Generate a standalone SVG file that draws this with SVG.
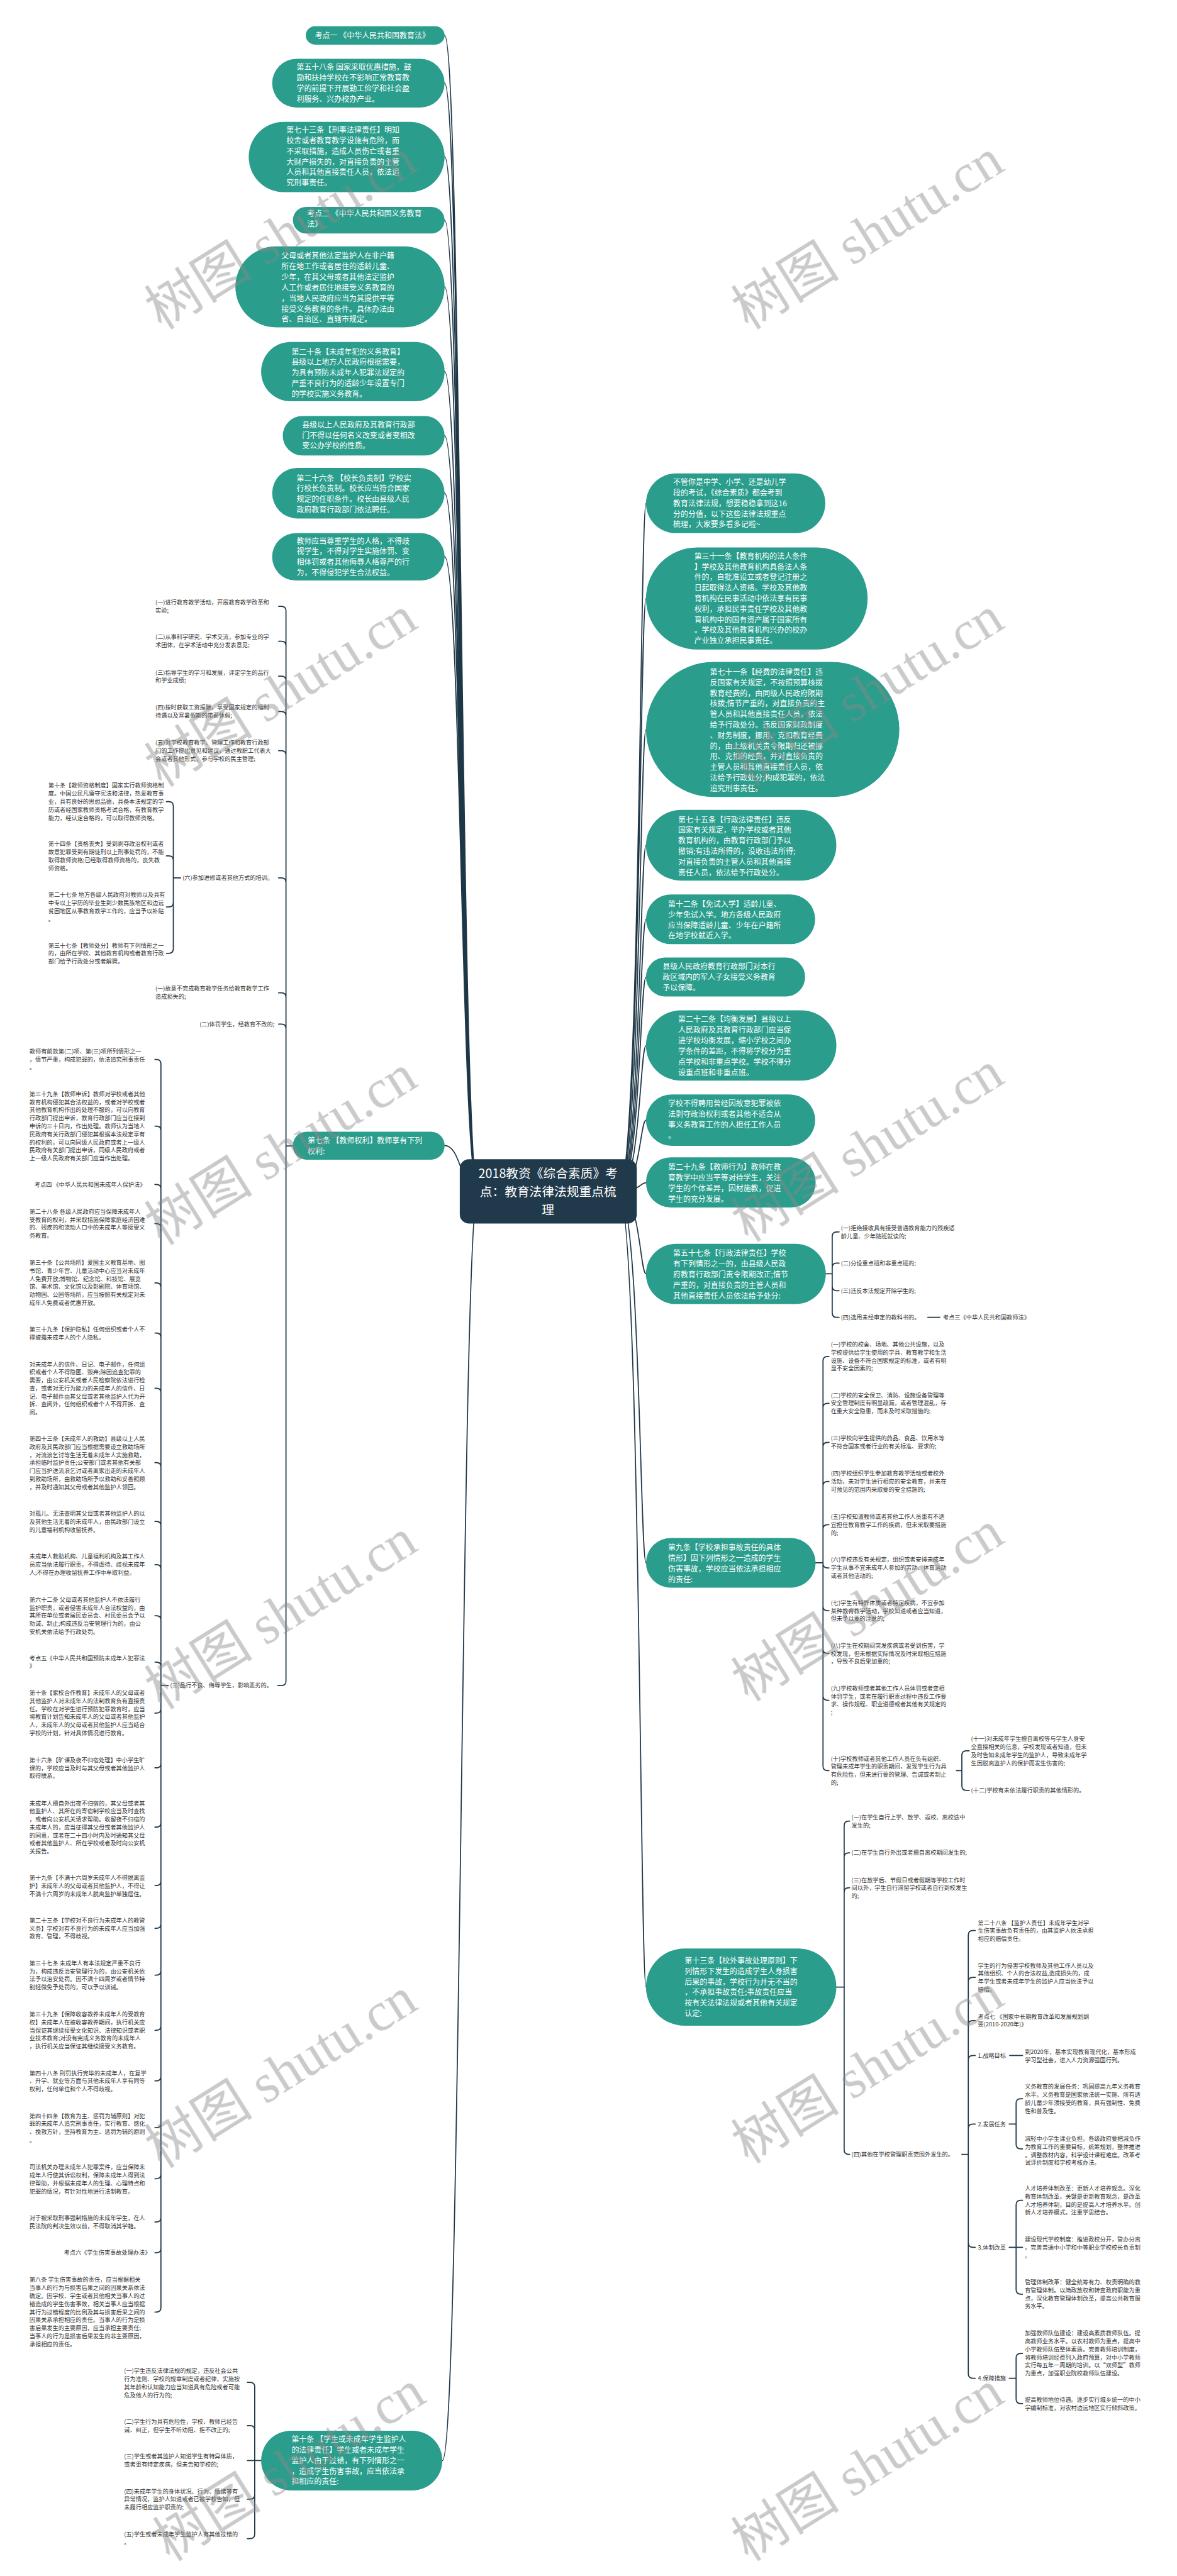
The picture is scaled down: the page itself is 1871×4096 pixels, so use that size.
<svg xmlns="http://www.w3.org/2000/svg" width="1871" height="4096" viewBox="0 0 1871 4096">
<style>
.p{fill:#2a9d8c}
.c{fill:#213a4b}
.n{font-family:"Noto Sans CJK SC","Noto Sans",sans-serif;font-size:16.4px;fill:#ffffff}
.l{font-family:"Noto Sans CJK SC","Noto Sans",sans-serif;font-size:12.6px;fill:#333333}
.ct{font-family:"Noto Sans CJK SC","Noto Sans",sans-serif;font-size:27px;fill:#ffffff;text-anchor:middle}
.e{fill:none;stroke:#1e3747;stroke-width:2.4;stroke-linecap:round}
.wm{font-family:"Liberation Serif","Noto Sans CJK SC",serif;font-size:118px;fill:#888888;opacity:0.45}
</style>
<rect width="1871" height="4096" fill="#ffffff"/>
<g transform="scale(0.73088)">
<g id="connectors">
<path class="e" d="M967 77C1003 77 1003 2592 1040 2592M967 181C1003 181 1003 2592 1040 2592M967 341C1003 341 1003 2592 1040 2592M967 479C1003 479 1003 2592 1040 2592M967 624C1003 624 1003 2592 1040 2592M967 808C1003 808 1003 2592 1040 2592M967 948C1003 948 1003 2592 1040 2592M967 1073C1003 1073 1003 2592 1040 2592M967 1211C1003 1211 1003 2592 1040 2592M967 2492C1003 2492 1003 2592 1040 2592M962 5353C1003 5353 1003 2592 1040 2592"/>
<path class="e" d="M1345 2592C1392 2592 1392 1095 1405 1095M1345 2592C1392 2592 1392 1302 1405 1302M1345 2592C1392 2592 1392 1587 1405 1587M1345 2592C1392 2592 1392 1839 1405 1839M1345 2592C1392 2592 1392 2000 1405 2000M1345 2592C1392 2592 1392 2126 1405 2126M1345 2592C1392 2592 1392 2275 1405 2275M1345 2592C1392 2592 1392 2437 1405 2437M1345 2592C1392 2592 1392 2573 1405 2573M1345 2592C1392 2592 1392 2771 1405 2771M1345 2592C1392 2592 1392 3400 1405 3400M1345 2592C1392 2592 1392 4323 1405 4323"/>
<path class="e" d="M637 2493H622M622 2493V1329Q622 1319 612 1319H606M622 2493V1405Q622 1395 612 1395H606M622 2493V1481Q622 1471 612 1471H606M622 2493V1558Q622 1548 612 1548H606M622 2493V1643Q622 1633 612 1633H606M622 2493V1920Q622 1910 612 1910H606M622 2493V2170Q622 2160 612 2160H606M622 2493V2238Q622 2228 612 2228H606M622 2493V3657Q622 3667 612 3667H604"/>
<path class="e" d="M393 1910H377M377 1910V1754Q377 1744 367 1744H362M377 1910V1872Q377 1862 367 1862H362M377 1910V1963Q377 1973 367 1973H362M377 1910V2064Q377 2074 367 2074H362"/>
<path class="e" d="M366 3667H350M350 3667V2315Q350 2305 340 2305H337M350 3667V2460Q350 2450 340 2450H337M350 3667V2587Q350 2577 340 2577H337M350 3667V2672Q350 2662 340 2662H337M350 3667V2801Q350 2791 340 2791H337M350 3667V2910Q350 2900 340 2900H337M350 3667V3030Q350 3020 340 3020H337M350 3667V3192Q350 3182 340 3182H337M350 3667V3320Q350 3310 340 3310H337M350 3667V3414Q350 3404 340 3404H337M350 3667V3525Q350 3515 340 3515H337M350 3667V3626Q350 3616 340 3616H337M350 3667V3717Q350 3727 340 3727H337M350 3667V3836Q350 3846 340 3846H337M350 3667V3965Q350 3975 340 3975H337M350 3667V4092Q350 4102 340 4102H337M350 3667V4185Q350 4195 340 4195H337M350 3667V4287Q350 4297 340 4297H337M350 3667V4407Q350 4417 340 4417H337M350 3667V4517Q350 4527 340 4527H337M350 3667V4619Q350 4629 340 4629H337M350 3667V4730Q350 4740 340 4740H337M350 3667V4824Q350 4834 340 4834H337M350 3667V4891Q350 4901 340 4901H337M350 3667V5020Q350 5030 340 5030H337"/>
<path class="e" d="M568 5353H538M554 5353V5193Q554 5183 544 5183H538M554 5353V5287Q554 5277 544 5277H538M554 5353V5427Q554 5437 544 5437H538M554 5353V5513Q554 5523 544 5523H538"/>
<path class="e" d="M1796 2771H1810M1810 2771V2690Q1810 2680 1820 2680H1825M1810 2771V2758Q1810 2748 1820 2748H1825M1810 2771V2798Q1810 2808 1820 2808H1825M1810 2771V2856Q1810 2866 1820 2866H1825M2018 2866H2044"/>
<path class="e" d="M1774 3400H1790M1790 3400V2961Q1790 2951 1800 2951H1803M1790 3400V3063Q1790 3053 1800 3053H1803M1790 3400V3148Q1790 3138 1800 3138H1803M1790 3400V3233Q1790 3223 1800 3223H1803M1790 3400V3327Q1790 3317 1800 3317H1803M1790 3400V3401Q1790 3411 1800 3411H1803M1790 3400V3494Q1790 3504 1800 3504H1803M1790 3400V3587Q1790 3597 1800 3597H1803M1790 3400V3689Q1790 3699 1800 3699H1803M1790 3400V3842Q1790 3852 1800 3852H1803"/>
<path class="e" d="M2080 3852H2092M2092 3852V3819Q2092 3809 2102 3809H2108M2092 3852V3885Q2092 3895 2102 3895H2108"/>
<path class="e" d="M1819 4323H1836M1836 4323V3972Q1836 3962 1846 3962H1848M1836 4323V4041Q1836 4031 1846 4031H1848M1836 4323V4117Q1836 4107 1846 4107H1848M1836 4323V4677Q1836 4687 1846 4687H1848"/>
<path class="e" d="M2092 4687H2106M2106 4687V4210Q2106 4200 2116 4200H2121M2106 4687V4312Q2106 4302 2116 4302H2121M2106 4687V4406Q2106 4396 2116 4396H2121M2106 4687V4482Q2106 4472 2116 4472H2121M2106 4687V4631Q2106 4621 2116 4621H2121M2106 4687V4879Q2106 4889 2116 4889H2121M2106 4687V5164Q2106 5174 2116 5174H2121"/>
<path class="e" d="M2196 4472H2224M2195 4621H2210M2210 4621V4576Q2210 4566 2220 4566H2224M2210 4621V4665Q2210 4675 2220 4675H2224M2195 4889H2224M2210 4889V4797Q2210 4787 2220 4787H2224M2210 4889V4981Q2210 4991 2220 4991H2224M2195 5174H2210M2210 5174V5130Q2210 5120 2220 5120H2224M2210 5174V5219Q2210 5229 2220 5229H2224"/>
</g>
<g id="center"><rect class="c" x="1000" y="2522" width="385" height="140" rx="20"/><text class="ct" x="1192" y="2562"><tspan x="1192">2018教资《综合素质》考</tspan><tspan x="1192" dy="40">点：教育法律法规重点梳</tspan><tspan x="1192" dy="40">理</tspan></text></g>
<g id="n1"><rect class="p" x="665" y="57" width="302" height="40" rx="20"/><text class="n" x="685" y="83">考点一 《中华人民共和国教育法》</text></g>
<g id="n2"><rect class="p" x="592" y="128" width="375" height="106" rx="53"/><text class="n" y="152"><tspan x="645">第五十八条 国家采取优惠措施，鼓</tspan><tspan x="645" dy="23">励和扶持学校在不影响正常教育教</tspan><tspan x="645" dy="23">学的前提下开展勤工俭学和社会盈</tspan><tspan x="645" dy="23">利服务、兴办校办产业。</tspan></text></g>
<g id="n3"><rect class="p" x="541" y="265" width="426" height="153" rx="76"/><text class="n" y="289"><tspan x="623">第七十三条【刑事法律责任】明知</tspan><tspan x="623" dy="23">校舍或者教育教学设施有危险，而</tspan><tspan x="623" dy="23">不采取措施，造成人员伤亡或者重</tspan><tspan x="623" dy="23">大财产损失的，对直接负责的主管</tspan><tspan x="623" dy="23">人员和其他直接责任人员，依法追</tspan><tspan x="623" dy="23">究刑事责任。</tspan></text></g>
<g id="n4"><rect class="p" x="637" y="450" width="330" height="58" rx="29"/><text class="n" y="471"><tspan x="668">考点二 《中华人民共和国义务教育</tspan><tspan x="668" dy="23">法》</tspan></text></g>
<g id="n5"><rect class="p" x="512" y="536" width="455" height="176" rx="88"/><text class="n" y="563"><tspan x="612">父母或者其他法定监护人在非户籍</tspan><tspan x="612" dy="23">所在地工作或者居住的适龄儿童、</tspan><tspan x="612" dy="23">少年，在其父母或者其他法定监护</tspan><tspan x="612" dy="23">人工作或者居住地接受义务教育的</tspan><tspan x="612" dy="23">，当地人民政府应当为其提供平等</tspan><tspan x="612" dy="23">接受义务教育的条件。具体办法由</tspan><tspan x="612" dy="23">省、自治区、直辖市规定。</tspan></text></g>
<g id="n6"><rect class="p" x="568" y="744" width="399" height="129" rx="64"/><text class="n" y="771"><tspan x="634">第二十条【未成年犯的义务教育】</tspan><tspan x="634" dy="23">县级以上地方人民政府根据需要，</tspan><tspan x="634" dy="23">为具有预防未成年人犯罪法规定的</tspan><tspan x="634" dy="23">严重不良行为的适龄少年设置专门</tspan><tspan x="634" dy="23">的学校实施义务教育。</tspan></text></g>
<g id="n7"><rect class="p" x="615" y="905" width="352" height="86" rx="43"/><text class="n" y="930"><tspan x="657">县级以上人民政府及其教育行政部</tspan><tspan x="657" dy="23">门不得以任何名义改变或者变相改</tspan><tspan x="657" dy="23">变公办学校的性质。</tspan></text></g>
<g id="n8"><rect class="p" x="592" y="1018" width="375" height="110" rx="55"/><text class="n" y="1046"><tspan x="645">第二十六条 【校长负责制】学校实</tspan><tspan x="645" dy="23">行校长负责制。校长应当符合国家</tspan><tspan x="645" dy="23">规定的任职条件。校长由县级人民</tspan><tspan x="645" dy="23">政府教育行政部门依法聘任。</tspan></text></g>
<g id="n9"><rect class="p" x="592" y="1160" width="375" height="103" rx="51"/><text class="n" y="1183"><tspan x="645">教师应当尊重学生的人格，不得歧</tspan><tspan x="645" dy="23">视学生，不得对学生实施体罚、变</tspan><tspan x="645" dy="23">相体罚或者其他侮辱人格尊严的行</tspan><tspan x="645" dy="23">为，不得侵犯学生合法权益。</tspan></text></g>
<g id="n10"><rect class="p" x="637" y="2462" width="330" height="61" rx="30"/><text class="n" y="2488"><tspan x="669">第七条 【教师权利】教师享有下列</tspan><tspan x="669" dy="23">权利:</tspan></text></g>
<g id="n10-leaves">
<text class="l" y="1314.5"><tspan x="338">(一)进行教育教学活动，开展教育教学改革和</tspan><tspan x="338" dy="17.5">实验;</tspan></text>
<text class="l" y="1390.5"><tspan x="338">(二)从事科学研究、学术交流，参加专业的学</tspan><tspan x="338" dy="17.5">术团体，在学术活动中充分发表意见;</tspan></text>
<text class="l" y="1467.5"><tspan x="338">(三)指导学生的学习和发展，评定学生的品行</tspan><tspan x="338" dy="17.5">和学业成绩;</tspan></text>
<text class="l" y="1543.5"><tspan x="338">(四)按时获取工资报酬，享受国家规定的福利</tspan><tspan x="338" dy="17.5">待遇以及寒暑假期的带薪休假;</tspan></text>
<text class="l" y="1620.5"><tspan x="338">(五)对学校教育教学、管理工作和教育行政部</tspan><tspan x="338" dy="17.5">门的工作提出意见和建议，通过教职工代表大</tspan><tspan x="338" dy="17.5">会或者其他形式，参与学校的民主管理;</tspan></text>
<text class="l" x="397" y="1914.5">(六)参加进修或者其他方式的培训。</text>
<text class="l" y="2155.5"><tspan x="338">(一)故意不完成教育教学任务给教育教学工作</tspan><tspan x="338" dy="17.5">造成损失的;</tspan></text>
<text class="l" x="434" y="2232.5">(二)体罚学生，经教育不改的;</text>
<text class="l" x="370" y="3671.5">(三)品行不良、侮辱学生，影响恶劣的。</text>
</g>
<g id="six-leaves">
<text class="l" y="1713.5"><tspan x="105">第十条【教师资格制度】国家实行教师资格制</tspan><tspan x="105" dy="17.5">度。中国公民凡遵守宪法和法律，热爱教育事</tspan><tspan x="105" dy="17.5">业，具有良好的思想品德，具备本法规定的学</tspan><tspan x="105" dy="17.5">历或者经国家教师资格考试合格，有教育教学</tspan><tspan x="105" dy="17.5">能力，经认定合格的，可以取得教师资格。</tspan></text>
<text class="l" y="1840.5"><tspan x="105">第十四条【资格丧失】受到剥夺政治权利或者</tspan><tspan x="105" dy="17.5">故意犯罪受到有期徒刑以上刑事处罚的，不能</tspan><tspan x="105" dy="17.5">取得教师资格;已经取得教师资格的，丧失教</tspan><tspan x="105" dy="17.5">师资格。</tspan></text>
<text class="l" y="1951.5"><tspan x="105">第二十七条 地方各级人民政府对教师以及具有</tspan><tspan x="105" dy="17.5">中专以上学历的毕业生到少数民族地区和边远</tspan><tspan x="105" dy="17.5">贫困地区从事教育教学工作的，应当予以补贴</tspan><tspan x="105" dy="17.5">。</tspan></text>
<text class="l" y="2061.5"><tspan x="105">第三十七条【教师处分】教师有下列情形之一</tspan><tspan x="105" dy="17.5">的，由所在学校、其他教育机构或者教育行政</tspan><tspan x="105" dy="17.5">部门给予行政处分或者解聘。</tspan></text>
</g>
<g id="three-leaves">
<text class="l" y="2291.5"><tspan x="64">教师有前款第(二)项、第(三)项所列情形之一</tspan><tspan x="64" dy="17.5">，情节严重，构成犯罪的，依法追究刑事责任</tspan><tspan x="64" dy="17.5">。</tspan></text>
<text class="l" y="2384.5"><tspan x="64">第三十九条【教师申诉】教师对学校或者其他</tspan><tspan x="64" dy="17.5">教育机构侵犯其合法权益的，或者对学校或者</tspan><tspan x="64" dy="17.5">其他教育机构作出的处理不服的，可以向教育</tspan><tspan x="64" dy="17.5">行政部门提出申诉，教育行政部门应当在接到</tspan><tspan x="64" dy="17.5">申诉的三十日内，作出处理。教师认为当地人</tspan><tspan x="64" dy="17.5">民政府有关行政部门侵犯其根据本法规定享有</tspan><tspan x="64" dy="17.5">的权利的，可以向同级人民政府或者上一级人</tspan><tspan x="64" dy="17.5">民政府有关部门提出申诉，同级人民政府或者</tspan><tspan x="64" dy="17.5">上一级人民政府有关部门应当作出处理。</tspan></text>
<text class="l" x="75" y="2581.5">考点四 《中华人民共和国未成年人保护法》</text>
<text class="l" y="2640.5"><tspan x="64">第二十八条 各级人民政府应当保障未成年人</tspan><tspan x="64" dy="17.5">受教育的权利，并采取措施保障家庭经济困难</tspan><tspan x="64" dy="17.5">的、残疾的和流动人口中的未成年人等接受义</tspan><tspan x="64" dy="17.5">务教育。</tspan></text>
<text class="l" y="2751.5"><tspan x="64">第三十条【公共场所】爱国主义教育基地、图</tspan><tspan x="64" dy="17.5">书馆、青少年宫、儿童活动中心应当对未成年</tspan><tspan x="64" dy="17.5">人免费开放;博物馆、纪念馆、科技馆、展览</tspan><tspan x="64" dy="17.5">馆、美术馆、文化馆以及影剧院、体育场馆、</tspan><tspan x="64" dy="17.5">动物园、公园等场所，应当按照有关规定对未</tspan><tspan x="64" dy="17.5">成年人免费或者优惠开放。</tspan></text>
<text class="l" y="2896.5"><tspan x="64">第三十九条【保护隐私】任何组织或者个人不</tspan><tspan x="64" dy="17.5">得披露未成年人的个人隐私。</tspan></text>
<text class="l" y="2972.5"><tspan x="64">对未成年人的信件、日记、电子邮件，任何组</tspan><tspan x="64" dy="17.5">织或者个人不得隐匿、毁弃;除因追查犯罪的</tspan><tspan x="64" dy="17.5">需要，由公安机关或者人民检察院依法进行检</tspan><tspan x="64" dy="17.5">查，或者对无行为能力的未成年人的信件、日</tspan><tspan x="64" dy="17.5">记、电子邮件由其父母或者其他监护人代为开</tspan><tspan x="64" dy="17.5">拆、查阅外，任何组织或者个人不得开拆、查</tspan><tspan x="64" dy="17.5">阅。</tspan></text>
<text class="l" y="3134.5"><tspan x="64">第四十三条【未成年人的救助】县级以上人民</tspan><tspan x="64" dy="17.5">政府及其民政部门应当根据需要设立救助场所</tspan><tspan x="64" dy="17.5">，对流浪乞讨等生活无着未成年人实施救助，</tspan><tspan x="64" dy="17.5">承担临时监护责任;公安部门或者其他有关部</tspan><tspan x="64" dy="17.5">门应当护送流浪乞讨或者离家出走的未成年人</tspan><tspan x="64" dy="17.5">到救助场所，由救助场所予以救助和妥善照顾</tspan><tspan x="64" dy="17.5">，并及时通知其父母或者其他监护人领回。</tspan></text>
<text class="l" y="3297.5"><tspan x="64">对孤儿、无法查明其父母或者其他监护人的以</tspan><tspan x="64" dy="17.5">及其他生活无着的未成年人，由民政部门设立</tspan><tspan x="64" dy="17.5">的儿童福利机构收留抚养。</tspan></text>
<text class="l" y="3390.5"><tspan x="64">未成年人救助机构、儿童福利机构及其工作人</tspan><tspan x="64" dy="17.5">员应当依法履行职责，不得虐待、歧视未成年</tspan><tspan x="64" dy="17.5">人;不得在办理收留抚养工作中牟取利益。</tspan></text>
<text class="l" y="3484.5"><tspan x="64">第六十二条 父母或者其他监护人不依法履行</tspan><tspan x="64" dy="17.5">监护职责，或者侵害未成年人合法权益的，由</tspan><tspan x="64" dy="17.5">其所在单位或者居民委员会、村民委员会予以</tspan><tspan x="64" dy="17.5">劝诫、制止;构成违反治安管理行为的，由公</tspan><tspan x="64" dy="17.5">安机关依法给予行政处罚。</tspan></text>
<text class="l" y="3611.5"><tspan x="64">考点五《中华人民共和国预防未成年人犯罪法</tspan><tspan x="64" dy="17.5">》</tspan></text>
<text class="l" y="3687.5"><tspan x="64">第十条【家校合作教育】未成年人的父母或者</tspan><tspan x="64" dy="17.5">其他监护人对未成年人的法制教育负有直接责</tspan><tspan x="64" dy="17.5">任。学校在对学生进行预防犯罪教育时，应当</tspan><tspan x="64" dy="17.5">将教育计划告知未成年人的父母或者其他监护</tspan><tspan x="64" dy="17.5">人，未成年人的父母或者其他监护人应当结合</tspan><tspan x="64" dy="17.5">学校的计划，针对具体情况进行教育。</tspan></text>
<text class="l" y="3833.5"><tspan x="64">第十六条【旷课及夜不归宿处理】中小学生旷</tspan><tspan x="64" dy="17.5">课的，学校应当及时与其父母或者其他监护人</tspan><tspan x="64" dy="17.5">取得联系。</tspan></text>
<text class="l" y="3927.5"><tspan x="64">未成年人擅自外出夜不归宿的，其父母或者其</tspan><tspan x="64" dy="17.5">他监护人、其所在的寄宿制学校应当及时查找</tspan><tspan x="64" dy="17.5">，或者向公安机关请求帮助。收留夜不归宿的</tspan><tspan x="64" dy="17.5">未成年人的，应当征得其父母或者其他监护人</tspan><tspan x="64" dy="17.5">的同意，或者在二十四小时内及时通知其父母</tspan><tspan x="64" dy="17.5">或者其他监护人、所在学校或者及时向公安机</tspan><tspan x="64" dy="17.5">关报告。</tspan></text>
<text class="l" y="4089.5"><tspan x="64">第十九条【不满十六周岁未成年人不得脱离监</tspan><tspan x="64" dy="17.5">护】未成年人的父母或者其他监护人，不得让</tspan><tspan x="64" dy="17.5">不满十六周岁的未成年人脱离监护单独居住。</tspan></text>
<text class="l" y="4182.5"><tspan x="64">第二十三条【学校对不良行为未成年人的教管</tspan><tspan x="64" dy="17.5">义务】学校对有不良行为的未成年人应当加强</tspan><tspan x="64" dy="17.5">教育、管理，不得歧视。</tspan></text>
<text class="l" y="4275.5"><tspan x="64">第三十七条 未成年人有本法规定严重不良行</tspan><tspan x="64" dy="17.5">为，构成违反治安管理行为的，由公安机关依</tspan><tspan x="64" dy="17.5">法予以治安处罚。因不满十四周岁或者情节特</tspan><tspan x="64" dy="17.5">别轻微免予处罚的，可以予以训诫。</tspan></text>
<text class="l" y="4386.5"><tspan x="64">第三十九条【保障收容教养未成年人的受教育</tspan><tspan x="64" dy="17.5">权】未成年人在被收容教养期间，执行机关应</tspan><tspan x="64" dy="17.5">当保证其继续接受文化知识、法律知识或者职</tspan><tspan x="64" dy="17.5">业技术教育;对没有完成义务教育的未成年人</tspan><tspan x="64" dy="17.5">，执行机关应当保证其继续接受义务教育。</tspan></text>
<text class="l" y="4514.5"><tspan x="64">第四十八条 刑罚执行完毕的未成年人，在复学</tspan><tspan x="64" dy="17.5">、升学、就业等方面与其他未成年人享有同等</tspan><tspan x="64" dy="17.5">权利，任何单位和个人不得歧视。</tspan></text>
<text class="l" y="4607.5"><tspan x="64">第四十四条【教育为主、惩罚为辅原则】对犯</tspan><tspan x="64" dy="17.5">罪的未成年人追究刑事责任，实行教育、感化</tspan><tspan x="64" dy="17.5">、挽救方针，坚持教育为主、惩罚为辅的原则</tspan><tspan x="64" dy="17.5">。</tspan></text>
<text class="l" y="4719.5"><tspan x="64">司法机关办理未成年人犯罪案件，应当保障未</tspan><tspan x="64" dy="17.5">成年人行使其诉讼权利，保障未成年人得到法</tspan><tspan x="64" dy="17.5">律帮助，并根据未成年人的生理、心理特点和</tspan><tspan x="64" dy="17.5">犯罪的情况，有针对性地进行法制教育。</tspan></text>
<text class="l" y="4829.5"><tspan x="64">对于被采取刑事强制措施的未成年学生，在人</tspan><tspan x="64" dy="17.5">民法院的判决生效以前，不得取消其学籍。</tspan></text>
<text class="l" x="139" y="4905.5">考点六《学生伤害事故处理办法》</text>
<text class="l" y="4964.5"><tspan x="64">第八条 学生伤害事故的责任，应当根据相关</tspan><tspan x="64" dy="17.5">当事人的行为与损害后果之间的因果关系依法</tspan><tspan x="64" dy="17.5">确定。因学校、学生或者其他相关当事人的过</tspan><tspan x="64" dy="17.5">错造成的学生伤害事故，相关当事人应当根据</tspan><tspan x="64" dy="17.5">其行为过错程度的比例及其与损害后果之间的</tspan><tspan x="64" dy="17.5">因果关系承担相应的责任。当事人的行为是损</tspan><tspan x="64" dy="17.5">害后果发生的主要原因，应当承担主要责任;</tspan><tspan x="64" dy="17.5">当事人的行为是损害后果发生的非主要原因，</tspan><tspan x="64" dy="17.5">承担相应的责任。</tspan></text>
</g>
<g id="n11"><rect class="p" x="568" y="5288" width="394" height="130" rx="65"/><text class="n" y="5313"><tspan x="634">第十条 【学生或未成年学生监护人</tspan><tspan x="634" dy="23">的法律责任】学生或者未成年学生</tspan><tspan x="634" dy="23">监护人由于过错，有下列情形之一</tspan><tspan x="634" dy="23">，造成学生伤害事故，应当依法承</tspan><tspan x="634" dy="23">担相应的责任:</tspan></text></g>
<g id="n11-leaves">
<text class="l" y="5162.5"><tspan x="270">(一)学生违反法律法规的规定，违反社会公共</tspan><tspan x="270" dy="17.5">行为准则、学校的规章制度或者纪律，实施按</tspan><tspan x="270" dy="17.5">其年龄和认知能力应当知道具有危险或者可能</tspan><tspan x="270" dy="17.5">危及他人的行为的;</tspan></text>
<text class="l" y="5273.5"><tspan x="270">(二)学生行为具有危险性，学校、教师已经告</tspan><tspan x="270" dy="17.5">诫、纠正，但学生不听劝阻、拒不改正的;</tspan></text>
<text class="l" y="5348.5"><tspan x="270">(三)学生或者其监护人知道学生有特异体质，</tspan><tspan x="270" dy="17.5">或者患有特定疾病，但未告知学校的;</tspan></text>
<text class="l" y="5424.5"><tspan x="270">(四)未成年学生的身体状况、行为、情绪等有</tspan><tspan x="270" dy="17.5">异常情况，监护人知道或者已被学校告知，但</tspan><tspan x="270" dy="17.5">未履行相应监护职责的;</tspan></text>
<text class="l" y="5518.5"><tspan x="270">(五)学生或者未成年学生监护人有其他过错的</tspan><tspan x="270" dy="17.5">。</tspan></text>
</g>
<g id="ra"><rect class="p" x="1405" y="1030" width="390" height="130" rx="65"/><text class="n" y="1055"><tspan x="1464">不管你是中学、小学、还是幼儿学</tspan><tspan x="1464" dy="23">段的考试，《综合素质》都会考到</tspan><tspan x="1464" dy="23">教育法律法规，想要稳稳拿到这16</tspan><tspan x="1464" dy="23">分的分值，以下这些法律法规重点</tspan><tspan x="1464" dy="23">梳理，大家要多看多记啦~</tspan></text></g>
<g id="rb"><rect class="p" x="1405" y="1191" width="482" height="222" rx="111"/><text class="n" y="1216"><tspan x="1510">第三十一条【教育机构的法人条件</tspan><tspan x="1510" dy="23">】学校及其他教育机构具备法人条</tspan><tspan x="1510" dy="23">件的，自批准设立或者登记注册之</tspan><tspan x="1510" dy="23">日起取得法人资格。学校及其他教</tspan><tspan x="1510" dy="23">育机构在民事活动中依法享有民事</tspan><tspan x="1510" dy="23">权利，承担民事责任学校及其他教</tspan><tspan x="1510" dy="23">育机构中的国有资产属于国家所有</tspan><tspan x="1510" dy="23">。学校及其他教育机构兴办的校办</tspan><tspan x="1510" dy="23">产业独立承担民事责任。</tspan></text></g>
<g id="rc"><rect class="p" x="1405" y="1440" width="551" height="294" rx="147"/><text class="n" y="1468"><tspan x="1544">第七十一条【经费的法律责任】违</tspan><tspan x="1544" dy="23">反国家有关规定，不按照预算核拨</tspan><tspan x="1544" dy="23">教育经费的，由同级人民政府限期</tspan><tspan x="1544" dy="23">核拨;情节严重的，对直接负责的主</tspan><tspan x="1544" dy="23">管人员和其他直接责任人员，依法</tspan><tspan x="1544" dy="23">给予行政处分。违反国家财政制度</tspan><tspan x="1544" dy="23">、财务制度，挪用、克扣教育经费</tspan><tspan x="1544" dy="23">的，由上级机关责令限期归还被挪</tspan><tspan x="1544" dy="23">用、克扣的经费，并对直接负责的</tspan><tspan x="1544" dy="23">主管人员和其他直接责任人员，依</tspan><tspan x="1544" dy="23">法给予行政处分;构成犯罪的，依法</tspan><tspan x="1544" dy="23">追究刑事责任。</tspan></text></g>
<g id="rd"><rect class="p" x="1405" y="1762" width="414" height="154" rx="77"/><text class="n" y="1789"><tspan x="1475">第七十五条【行政法律责任】违反</tspan><tspan x="1475" dy="23">国家有关规定，举办学校或者其他</tspan><tspan x="1475" dy="23">教育机构的，由教育行政部门予以</tspan><tspan x="1475" dy="23">撤销;有违法所得的，没收违法所得;</tspan><tspan x="1475" dy="23">对直接负责的主管人员和其他直接</tspan><tspan x="1475" dy="23">责任人员，依法给予行政处分。</tspan></text></g>
<g id="re"><rect class="p" x="1405" y="1946" width="368" height="108" rx="54"/><text class="n" y="1973"><tspan x="1453">第十二条【免试入学】适龄儿童、</tspan><tspan x="1453" dy="23">少年免试入学。地方各级人民政府</tspan><tspan x="1453" dy="23">应当保障适龄儿童、少年在户籍所</tspan><tspan x="1453" dy="23">在地学校就近入学。</tspan></text></g>
<g id="rf"><rect class="p" x="1405" y="2083" width="346" height="85" rx="42"/><text class="n" y="2109"><tspan x="1441">县级人民政府教育行政部门对本行</tspan><tspan x="1441" dy="23">政区域内的军人子女接受义务教育</tspan><tspan x="1441" dy="23">予以保障。</tspan></text></g>
<g id="rg"><rect class="p" x="1405" y="2198" width="414" height="153" rx="76"/><text class="n" y="2224"><tspan x="1475">第二十二条【均衡发展】县级以上</tspan><tspan x="1475" dy="23">人民政府及其教育行政部门应当促</tspan><tspan x="1475" dy="23">进学校均衡发展，缩小学校之间办</tspan><tspan x="1475" dy="23">学条件的差距，不得将学校分为重</tspan><tspan x="1475" dy="23">点学校和非重点学校。学校不得分</tspan><tspan x="1475" dy="23">设重点班和非重点班。</tspan></text></g>
<g id="rh"><rect class="p" x="1405" y="2381" width="368" height="112" rx="56"/><text class="n" y="2407"><tspan x="1453">学校不得聘用曾经因故意犯罪被依</tspan><tspan x="1453" dy="23">法剥夺政治权利或者其他不适合从</tspan><tspan x="1453" dy="23">事义务教育工作的人担任工作人员</tspan><tspan x="1453" dy="23">。</tspan></text></g>
<g id="ri"><rect class="p" x="1405" y="2518" width="369" height="109" rx="54"/><text class="n" y="2545"><tspan x="1453">第二十九条【教师行为】教师在教</tspan><tspan x="1453" dy="23">育教学中应当平等对待学生，关注</tspan><tspan x="1453" dy="23">学生的个体差异，因材施教，促进</tspan><tspan x="1453" dy="23">学生的充分发展。</tspan></text></g>
<g id="rj"><rect class="p" x="1405" y="2706" width="391" height="131" rx="65"/><text class="n" y="2733"><tspan x="1464">第五十七条【行政法律责任】学校</tspan><tspan x="1464" dy="23">有下列情形之一的，由县级人民政</tspan><tspan x="1464" dy="23">府教育行政部门责令限期改正;情节</tspan><tspan x="1464" dy="23">严重的，对直接负责的主管人员和</tspan><tspan x="1464" dy="23">其他直接责任人员依法给予处分:</tspan></text></g>
<g id="rj-leaves">
<text class="l" y="2676.5"><tspan x="1829">(一)拒绝接收具有接受普通教育能力的残疾适</tspan><tspan x="1829" dy="17.5">龄儿童、少年随班就读的;</tspan></text>
<text class="l" x="1829" y="2752.5">(二)分设重点班和非重点班的;</text>
<text class="l" x="1829" y="2812.5">(三)违反本法规定开除学生的;</text>
<text class="l" x="1829" y="2870.5">(四)选用未经审定的教科书的。</text>
<text class="l" x="2051" y="2870.5">考点三《中华人民共和国教师法》</text>
</g>
<g id="rk"><rect class="p" x="1405" y="3346" width="369" height="108" rx="54"/><text class="n" y="3373"><tspan x="1453">第九条【学校承担事故责任的具体</tspan><tspan x="1453" dy="23">情形】因下列情形之一造成的学生</tspan><tspan x="1453" dy="23">伤害事故，学校应当依法承担相应</tspan><tspan x="1453" dy="23">的责任:</tspan></text></g>
<g id="rk-leaves">
<text class="l" y="2929.5"><tspan x="1807">(一)学校的校舍、场地、其他公共设施，以及</tspan><tspan x="1807" dy="17.5">学校提供给学生使用的学具、教育教学和生活</tspan><tspan x="1807" dy="17.5">设施、设备不符合国家规定的标准，或者有明</tspan><tspan x="1807" dy="17.5">显不安全因素的;</tspan></text>
<text class="l" y="3039.5"><tspan x="1807">(二)学校的安全保卫、消防、设施设备管理等</tspan><tspan x="1807" dy="17.5">安全管理制度有明显疏漏，或者管理混乱，存</tspan><tspan x="1807" dy="17.5">在重大安全隐患，而未及时采取措施的;</tspan></text>
<text class="l" y="3133.5"><tspan x="1807">(三)学校向学生提供的药品、食品、饮用水等</tspan><tspan x="1807" dy="17.5">不符合国家或者行业的有关标准、要求的;</tspan></text>
<text class="l" y="3210.5"><tspan x="1807">(四)学校组织学生参加教育教学活动或者校外</tspan><tspan x="1807" dy="17.5">活动，未对学生进行相应的安全教育，并未在</tspan><tspan x="1807" dy="17.5">可预见的范围内采取要的安全措施的;</tspan></text>
<text class="l" y="3304.5"><tspan x="1807">(五)学校知道教师或者其他工作人员患有不适</tspan><tspan x="1807" dy="17.5">宜担任教育教学工作的疾病，但未采取要措施</tspan><tspan x="1807" dy="17.5">的;</tspan></text>
<text class="l" y="3397.5"><tspan x="1807">(六)学校违反有关规定，组织或者安排未成年</tspan><tspan x="1807" dy="17.5">学生从事不宜未成年人参加的劳动、体育运动</tspan><tspan x="1807" dy="17.5">或者其他活动的;</tspan></text>
<text class="l" y="3491.5"><tspan x="1807">(七)学生有特异体质或者特定疾病，不宜参加</tspan><tspan x="1807" dy="17.5">某种教育教学活动，学校知道或者应当知道，</tspan><tspan x="1807" dy="17.5">但未予以要的注意的;</tspan></text>
<text class="l" y="3584.5"><tspan x="1807">(八)学生在校期间突发疾病或者受到伤害，学</tspan><tspan x="1807" dy="17.5">校发现，但未根据实际情况及时采取相应措施</tspan><tspan x="1807" dy="17.5">，导致不良后果加重的;</tspan></text>
<text class="l" y="3677.5"><tspan x="1807">(九)学校教师或者其他工作人员体罚或者变相</tspan><tspan x="1807" dy="17.5">体罚学生，或者在履行职责过程中违反工作要</tspan><tspan x="1807" dy="17.5">求、操作规程、职业道德或者其他有关规定的</tspan><tspan x="1807" dy="17.5">;</tspan></text>
<text class="l" y="3830.5"><tspan x="1807">(十)学校教师或者其他工作人员在负有组织、</tspan><tspan x="1807" dy="17.5">管理未成年学生的职责期间，发现学生行为具</tspan><tspan x="1807" dy="17.5">有危险性，但未进行要的管理、告诫或者制止</tspan><tspan x="1807" dy="17.5">的;</tspan></text>
<text class="l" y="3787.5"><tspan x="2112">(十一)对未成年学生擅自离校等与学生人身安</tspan><tspan x="2112" dy="17.5">全直接相关的信息，学校发现或者知道，但未</tspan><tspan x="2112" dy="17.5">及时告知未成年学生的监护人，导致未成年学</tspan><tspan x="2112" dy="17.5">生因脱离监护人的保护而发生伤害的;</tspan></text>
<text class="l" x="2112" y="3899.5">(十二)学校有未依法履行职责的其他情形的。</text>
</g>
<g id="r13"><rect class="p" x="1405" y="4239" width="414" height="168" rx="84"/><text class="n" y="4271.5"><tspan x="1489">第十三条【校外事故处理原则】下</tspan><tspan x="1489" dy="23">列情形下发生的造成学生人身损害</tspan><tspan x="1489" dy="23">后果的事故，学校行为并无不当的</tspan><tspan x="1489" dy="23">，不承担事故责任;事故责任应当</tspan><tspan x="1489" dy="23">按有关法律法规或者其他有关规定</tspan><tspan x="1489" dy="23">认定:</tspan></text></g>
<g id="r13-leaves">
<text class="l" y="3958.5"><tspan x="1852">(一)在学生自行上学、放学、返校、离校途中</tspan><tspan x="1852" dy="17.5">发生的;</tspan></text>
<text class="l" x="1852" y="4035.5">(二)在学生自行外出或者擅自离校期间发生的;</text>
<text class="l" y="4094.5"><tspan x="1852">(三)在放学后、节假日或者假期等学校工作时</tspan><tspan x="1852" dy="17.5">间以外，学生自行滞留学校或者自行到校发生</tspan><tspan x="1852" dy="17.5">的;</tspan></text>
<text class="l" x="1852" y="4691.5">(四)其他在学校管理职责范围外发生的。</text>
<text class="l" y="4187.5"><tspan x="2127">第二十八条 【监护人责任】未成年学生对学</tspan><tspan x="2127" dy="17.5">生伤害事故负有责任的，由其监护人依法承担</tspan><tspan x="2127" dy="17.5">相应的赔偿责任。</tspan></text>
<text class="l" y="4280.5"><tspan x="2127">学生的行为侵害学校教师及其他工作人员以及</tspan><tspan x="2127" dy="17.5">其他组织、个人的合法权益,造成损失的，成</tspan><tspan x="2127" dy="17.5">年学生或者未成年学生的监护人应当依法予以</tspan><tspan x="2127" dy="17.5">赔偿。</tspan></text>
<text class="l" y="4391.5"><tspan x="2127">考点七 《国家中长期教育改革和发展规划纲</tspan><tspan x="2127" dy="17.5">要(2010-2020年)》</tspan></text>
<text class="l" x="2127" y="4476.5">1.战略目标</text>
<text class="l" y="4468.5"><tspan x="2229">到2020年，基本实现教育现代化，基本形成</tspan><tspan x="2229" dy="17.5">学习型社会，进入人力资源强国行列。</tspan></text>
<text class="l" x="2127" y="4625.5">2.发展任务</text>
<text class="l" y="4544.5"><tspan x="2229">义务教育的发展任务：巩固提高九年义务教育</tspan><tspan x="2229" dy="17.5">水平。义务教育是国家依法统一实施、所有适</tspan><tspan x="2229" dy="17.5">龄儿童少年须接受的教育，具有强制性、免费</tspan><tspan x="2229" dy="17.5">性和普及性。</tspan></text>
<text class="l" y="4657.5"><tspan x="2229">减轻中小学生课业负担。各级政府要把减负作</tspan><tspan x="2229" dy="17.5">为教育工作的重要目标，统筹规划，整体推进</tspan><tspan x="2229" dy="17.5">。调整教材内容，科学设计课程难度。改革考</tspan><tspan x="2229" dy="17.5">试评价制度和学校考核办法。</tspan></text>
<text class="l" x="2127" y="4893.5">3.体制改革</text>
<text class="l" y="4765.5"><tspan x="2229">人才培养体制改革：更新人才培养观念。深化</tspan><tspan x="2229" dy="17.5">教育体制改革，关键是更新教育观念，是改革</tspan><tspan x="2229" dy="17.5">人才培养体制，目的是提高人才培养水平。创</tspan><tspan x="2229" dy="17.5">新人才培养模式。注重学思结合。</tspan></text>
<text class="l" y="4876.5"><tspan x="2229">建设现代学校制度：推进政校分开，管办分离</tspan><tspan x="2229" dy="17.5">。完善普通中小学和中等职业学校校长负责制</tspan><tspan x="2229" dy="17.5">。</tspan></text>
<text class="l" y="4969.5"><tspan x="2229">管理体制改革：健全统筹有力、权责明确的教</tspan><tspan x="2229" dy="17.5">育管理体制。以简政放权和转变政府职能为重</tspan><tspan x="2229" dy="17.5">点，深化教育管理体制改革，提高公共教育服</tspan><tspan x="2229" dy="17.5">务水平。</tspan></text>
<text class="l" x="2127" y="5178.5">4.保障措施</text>
<text class="l" y="5080.5"><tspan x="2229">加强教师队伍建设：建设高素质教师队伍。提</tspan><tspan x="2229" dy="17.5">高教师业务水平。以农村教师为重点，提高中</tspan><tspan x="2229" dy="17.5">小学教师队伍整体素质。完善教师培训制度，</tspan><tspan x="2229" dy="17.5">将教师培训经费列入政府预算，对中小学教师</tspan><tspan x="2229" dy="17.5">实行每五年一周期的培训。以“双师型”教师</tspan><tspan x="2229" dy="17.5">为重点，加强职业院校教师队伍建设。</tspan></text>
<text class="l" y="5225.5"><tspan x="2229">提高教师地位待遇。逐步实行城乡统一的中小</tspan><tspan x="2229" dy="17.5">学编制标准，对农村边远地区实行倾斜政策。</tspan></text>
</g>
<g id="watermarks" class="wm">
<text transform="translate(352 720) rotate(-32)">树图 shutu.cn</text>
<text transform="translate(1628 720) rotate(-32)">树图 shutu.cn</text>
<text transform="translate(352 1715) rotate(-32)">树图 shutu.cn</text>
<text transform="translate(1628 1715) rotate(-32)">树图 shutu.cn</text>
<text transform="translate(352 2712) rotate(-32)">树图 shutu.cn</text>
<text transform="translate(1628 2705) rotate(-32)">树图 shutu.cn</text>
<text transform="translate(352 3722) rotate(-32)">树图 shutu.cn</text>
<text transform="translate(1628 3705) rotate(-32)">树图 shutu.cn</text>
<text transform="translate(352 4720) rotate(-32)">树图 shutu.cn</text>
<text transform="translate(1628 4710) rotate(-32)">树图 shutu.cn</text>
<text transform="translate(370 5575) rotate(-32)">树图 shutu.cn</text>
<text transform="translate(1628 5575) rotate(-32)">树图 shutu.cn</text>
</g>
</g>
</svg>
